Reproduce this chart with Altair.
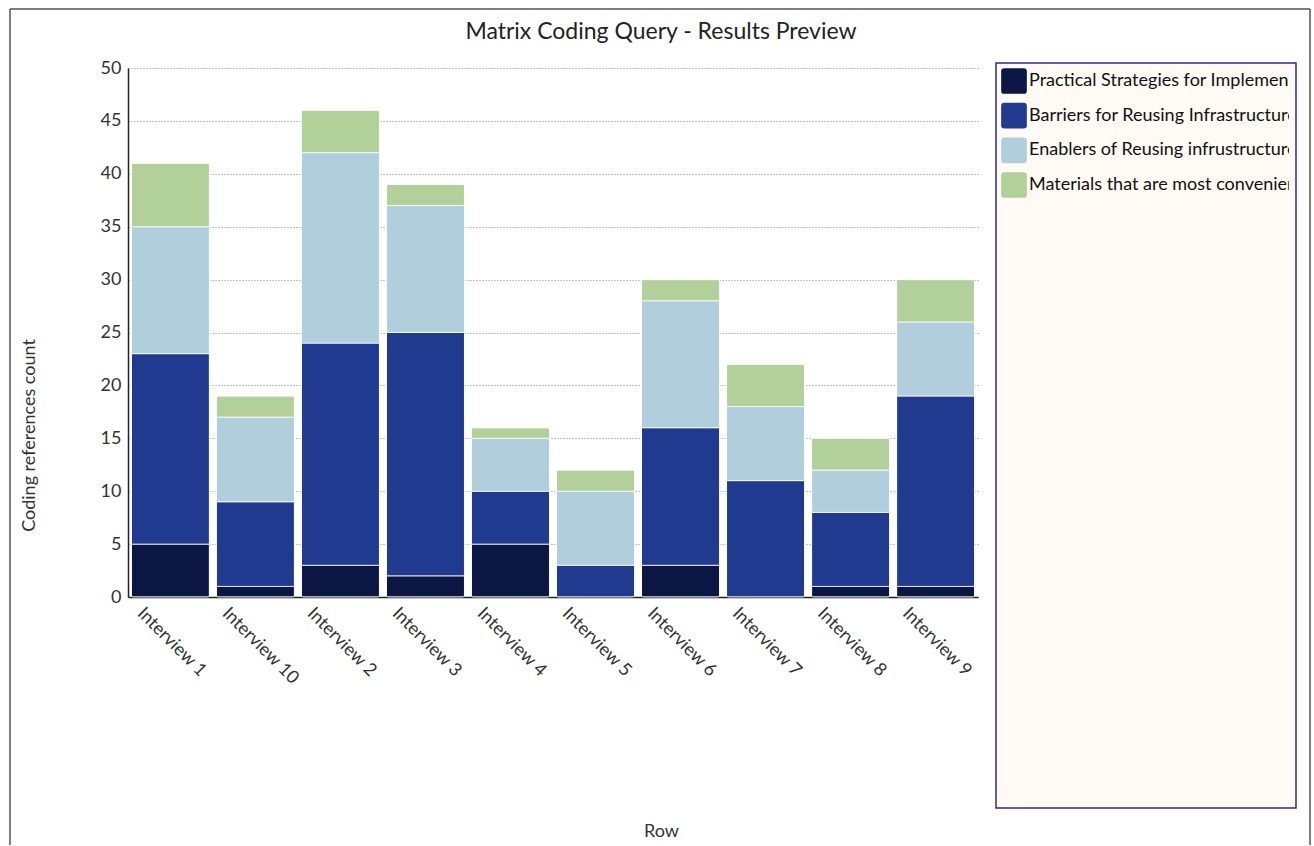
import altair as alt
import pandas as pd

rows = ["Interview 1", "Interview 10", "Interview 2", "Interview 3", "Interview 4",
        "Interview 5", "Interview 6", "Interview 7", "Interview 8", "Interview 9"]
series = ["Practical Strategies for Implementation",
          "Barriers for Reusing Infrastructure",
          "Enablers of Reusing infrustructure",
          "Materials that are most convenient"]
practical = [5, 1, 3, 2, 5, 0, 3, 0, 1, 1]
barriers = [18, 8, 21, 23, 5, 3, 13, 11, 7, 18]
enablers = [12, 8, 18, 12, 5, 7, 12, 7, 4, 7]
materials = [6, 2, 4, 2, 1, 2, 2, 4, 3, 4]
colors = ["#0c1643", "#1f3a8f", "#b0cedc", "#b2d09a"]
y_ticks = list(range(0, 51, 5))

recs = []
for si, vals in enumerate([practical, barriers, enablers, materials]):
    for r, v in zip(rows, vals):
        recs.append({"row": r, "series": series[si], "idx": si, "value": v})
df = pd.DataFrame(recs)
one = pd.DataFrame({"a": [0]})
leg_df = pd.DataFrame({"series": series})

FONT = "Lato"

bars = alt.Chart(df).transform_filter("datum.value > 0").mark_bar(
    cornerRadius=2, stroke="white", strokeWidth=0.8
).encode(
    x=alt.X("row:N", sort=rows,
            scale=alt.Scale(paddingInner=0.0824, paddingOuter=0.04),
            axis=alt.Axis(title="Row", labelAngle=45, labelAlign="left",
                          labelBaseline="top", labelOffset=-24, labelPadding=7,
                          ticks=False, domainColor="#222", domainWidth=1.5,
                          labelFontSize=18, labelColor="#333",
                          titleFontSize=18, titleColor="#333", titleFontWeight="normal",
                          titleX=533, titleY=234, titleAlign="center",
                          titleBaseline="middle")),
    y=alt.Y("value:Q", stack="zero",
            scale=alt.Scale(domain=[0, 50], nice=False),
            axis=alt.Axis(title="Coding references count", values=y_ticks,
                          grid=True, gridDash=[1, 2], gridColor="#888",
                          ticks=False, domainColor="#222", domainWidth=1.5,
                          labelFontSize=18, labelColor="#333", labelPadding=7,
                          titleFontSize=18, titleColor="#333", titleFontWeight="normal",
                          titleX=-99, titleY=367, titleAlign="center",
                          titleBaseline="middle")),
    color=alt.Color("series:N", scale=alt.Scale(domain=series, range=colors), legend=None),
    order=alt.Order("idx:Q"),
)

border_l = alt.Chart(one).mark_rule(color="#555", strokeWidth=1.5).encode(
    x=alt.value(-118), y=alt.value(-59), y2=alt.value(777))
border_r = alt.Chart(one).mark_rule(color="#555", strokeWidth=1.5).encode(
    x=alt.value(1182), y=alt.value(-59), y2=alt.value(777))
border_t = alt.Chart(one).mark_rule(color="#555", strokeWidth=1.5).encode(
    x=alt.value(-118), x2=alt.value(1182), y=alt.value(-59))
title = alt.Chart(one).mark_text(
    text="Matrix Coding Query - Results Preview", fontSize=23, color="#222",
    align="center", baseline="middle", font=FONT
).encode(x=alt.value(533), y=alt.value(-36))

main = alt.layer(bars, border_l, border_r, border_t, title).properties(width=850, height=529)

box = alt.Chart(one).mark_rect(fill="#fffaf4", stroke="#2a2a9a", strokeWidth=1.5).encode(
    x=alt.value(0), x2=alt.value(300), y=alt.value(-5), y2=alt.value(740))
ysc = alt.Scale(domain=series, range=[13, 117], padding=0)
sym = alt.Chart(leg_df).mark_point(
    shape="M-1,-0.75 Q-1,-1 -0.75,-1 L0.75,-1 Q1,-1 1,-0.75 L1,0.75 Q1,1 0.75,1 L-0.75,1 Q-1,1 -1,0.75 Z",
    size=660, filled=True, opacity=1, strokeWidth=0
).encode(
    x=alt.value(18),
    y=alt.Y("series:N", sort=series, scale=ysc, axis=None),
    color=alt.Color("series:N", scale=alt.Scale(domain=series, range=colors), legend=None),
)
txt = alt.Chart(leg_df).mark_text(
    align="left", baseline="middle", fontSize=18, color="#111", clip=True, font=FONT
).encode(
    x=alt.value(33),
    y=alt.Y("series:N", sort=series, scale=ysc, axis=None),
    text="series:N",
)
legend = alt.layer(box, sym, txt).properties(width=293, height=740)

chart = alt.hconcat(main, legend, spacing=18, bounds="flush").properties(
    padding={"left": 8, "top": 7, "right": 0, "bottom": 0}
).configure(font=FONT).configure_view(stroke="transparent")

chart.save("out.html", embed_options={"renderer": "svg", "actions": False})
